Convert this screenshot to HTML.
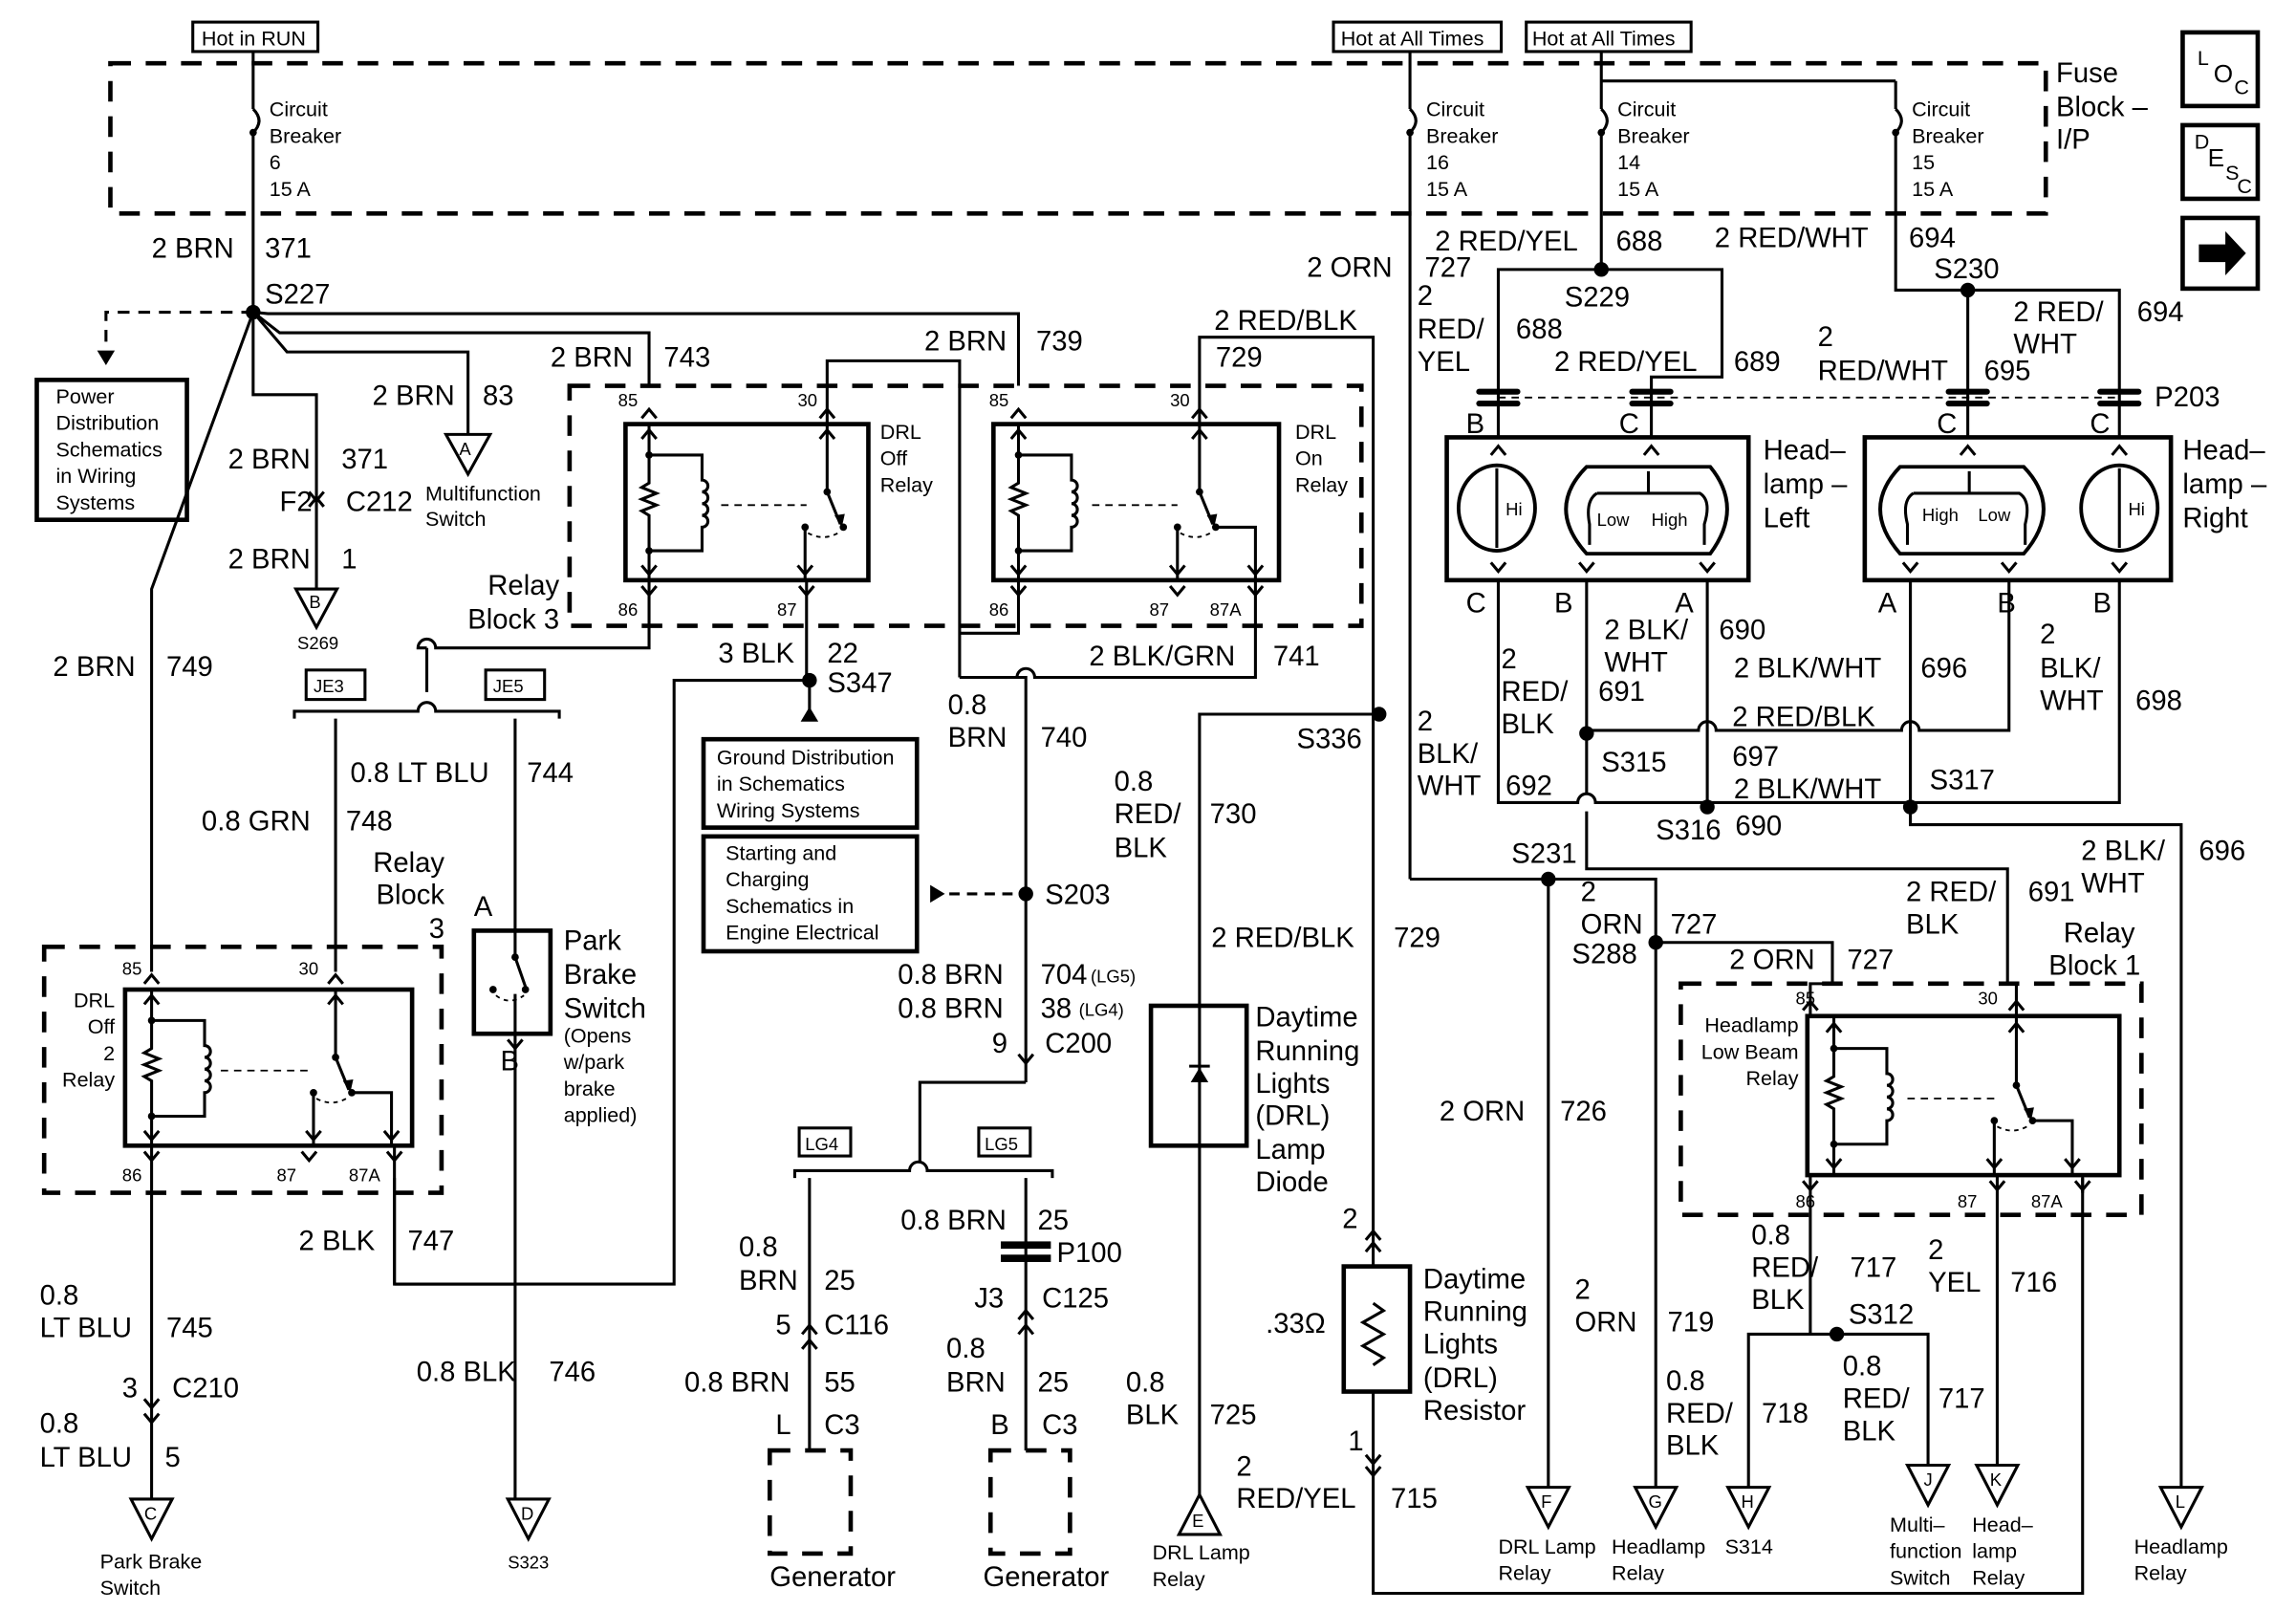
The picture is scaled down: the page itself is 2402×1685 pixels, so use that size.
<!DOCTYPE html>
<html><head><meta charset="utf-8"><style>
html,body{margin:0;padding:0;background:#fff;}
svg{display:block;}
text{font-family:"Liberation Sans",Arial,sans-serif;fill:#000;}
.m{font-size:19px;}
.s{font-size:14px;}
.t{font-size:12px;}
.ln{stroke:#000;stroke-width:2;fill:none;}
.bx{stroke:#000;stroke-width:3;fill:none;}
.dsh{stroke:#000;stroke-width:3;fill:none;stroke-dasharray:14 10;}
.thin{stroke:#000;stroke-width:1.2;fill:none;stroke-dasharray:5 4;}
</style></head><body>
<svg width="2402" height="1685" viewBox="0 0 1560 1094" preserveAspectRatio="none" xmlns="http://www.w3.org/2000/svg">
<rect width="1560" height="1094" fill="#fff"/>
<defs>
<g id="coil">
<path class="ln" d="M0,0 V40 L-5,43 L5,47 L-5,51 L5,55 L-5,59 L0,62 V106"/>
<path class="ln" d="M-5,10 L0,4 L5,10 M-5,96 L0,102 L5,96"/>
<circle cx="0" cy="21" r="2.5"/><circle cx="0" cy="86" r="2.5"/>
<path class="ln" d="M0,21 H36 V38 a4,4 0 0 1 0,8 a4,4 0 0 1 0,8 a4,4 0 0 1 0,8 a4,4 0 0 1 0,8 V86 H0"/>
</g>
<g id="sw">
<path class="ln" d="M0,0 V46 L9,68 M-5,10 L0,4 L5,10"/>
<path d="M5,62 L10,70 L12,61 Z"/>
<circle cx="0" cy="46" r="2.5"/><circle cx="11" cy="70" r="2.5"/><circle cx="-15" cy="70" r="2.5"/>
<path class="ln" d="M-15,70 V106 M-20,96 L-15,102 L-10,96"/>
<path class="thin" d="M-13,74 Q-2,80 9,73" style="stroke-dasharray:3 3"/>
</g>
<g id="sw87a">
<use href="#sw"/>
<path class="ln" d="M11,70 H38 V106 M33,96 L38,102 L43,96"/>
</g>
<g id="fchev"><path class="ln" d="M-5,6 L0,0 L5,6"/></g>
<g id="mchev"><path class="ln" d="M-5,-6 L0,0 L5,-6"/></g>
</defs>

<rect x="131" y="15" width="85" height="20" class="ln"/><text x="137" y="31" class="s">Hot in RUN</text>
<rect x="906" y="15" width="114" height="20" class="ln"/><text x="911" y="31" class="s">Hot at All Times</text>
<rect x="1037" y="15" width="112" height="20" class="ln"/><text x="1041" y="31" class="s">Hot at All Times</text>

<path class="dsh" d="M75,43 H1390 V145 H75 Z"/>
<text x="1397" y="56" class="m">Fuse</text><text x="1397" y="79" class="m">Block –</text><text x="1397" y="101" class="m">I/P</text>

<rect x="1483" y="22" width="51" height="50" class="bx"/><text x="1493" y="44" class="s">L</text><text x="1504" y="56" class="m" style="font-size:17px">O</text><text x="1518" y="64" class="s">C</text>
<rect x="1483" y="85" width="51" height="50" class="bx"/><text x="1491" y="101" class="s">D</text><text x="1500" y="113" class="m" style="font-size:17px">E</text><text x="1512" y="122" class="s">S</text><text x="1520" y="131" class="s">C</text>
<rect x="1483" y="148" width="51" height="48" class="bx"/><path d="M1494,166 H1512 V157 L1526,172 L1512,187 V178 H1494 Z"/>

<g>
<path class="ln" d="M172,35 V74 M172,90 V212"/><path class="ln" d="M172,90 Q180,82 172,74"/><circle cx="172" cy="90" r="2.5"/>
<text x="183" y="79" class="s">Circuit</text><text x="183" y="97" class="s">Breaker</text><text x="183" y="115" class="s">6</text><text x="183" y="133" class="s">15 A</text>
</g>
<g>
<path class="ln" d="M958,35 V74 M958,90 V597"/><path class="ln" d="M958,90 Q966,82 958,74"/><circle cx="958" cy="90" r="2.5"/>
<text x="969" y="79" class="s">Circuit</text><text x="969" y="97" class="s">Breaker</text><text x="969" y="115" class="s">16</text><text x="969" y="133" class="s">15 A</text>
</g>
<g>
<path class="ln" d="M1088,35 V74 M1088,90 V183"/><path class="ln" d="M1088,90 Q1096,82 1088,74"/><circle cx="1088" cy="90" r="2.5"/>
<text x="1099" y="79" class="s">Circuit</text><text x="1099" y="97" class="s">Breaker</text><text x="1099" y="115" class="s">14</text><text x="1099" y="133" class="s">15 A</text>
</g>
<g>
<path class="ln" d="M1288,55 V74 M1288,90 V197 H1337"/><path class="ln" d="M1088,55 H1288"/><path class="ln" d="M1288,90 Q1296,82 1288,74"/><circle cx="1288" cy="90" r="2.5"/>
<text x="1299" y="79" class="s">Circuit</text><text x="1299" y="97" class="s">Breaker</text><text x="1299" y="115" class="s">15</text><text x="1299" y="133" class="s">15 A</text>
</g>

<text x="103" y="175" class="m">2 BRN</text><text x="180" y="175" class="m">371</text>
<text x="180" y="206" class="m">S227</text>
<circle cx="172" cy="212" r="5"/>
<path class="dsh" style="stroke-width:2;stroke-dasharray:8 6" d="M172,212 H72 V238"/>
<path d="M66,238 L78,238 L72,248 Z"/>
<rect x="25" y="258" width="102" height="95" class="bx"/>
<text x="38" y="274" class="s">Power</text><text x="38" y="292" class="s">Distribution</text><text x="38" y="310" class="s">Schematics</text><text x="38" y="328" class="s">in Wiring</text><text x="38" y="346" class="s">Systems</text>
<path class="ln" d="M172,212 L182,213 H692 V262"/>
<path class="ln" d="M172,212 L190,226 H441 V262"/>
<path class="ln" d="M172,212 L195,239 H318 V295"/>
<path class="ln" d="M172,212 V268 H215 V400"/>
<path class="ln" d="M172,212 L103,400 V660"/>
<path d="M303,295 L333,295 L318,322 Z" fill="none" stroke="#000" stroke-width="2"/><text x="312" y="309" class="t">A</text>
<text x="289" y="340" class="s">Multifunction</text><text x="289" y="357" class="s">Switch</text>
<text x="253" y="275" class="m">2 BRN</text><text x="328" y="275" class="m">83</text>
<text x="374" y="249" class="m">2 BRN</text><text x="451" y="249" class="m">743</text>
<text x="628" y="238" class="m">2 BRN</text><text x="704" y="238" class="m">739</text>
<text x="155" y="318" class="m">2 BRN</text><text x="232" y="318" class="m">371</text>
<text x="190" y="347" class="m">F2</text><text x="235" y="347" class="m">C212</text>
<path class="ln" d="M210,334 L215,340 L220,334 M210,344 L215,338 L220,344"/>
<text x="155" y="386" class="m">2 BRN</text><text x="232" y="386" class="m">1</text>
<path d="M201,400 L229,400 L215,426 Z" fill="none" stroke="#000" stroke-width="2"/><text x="210" y="413" class="t">B</text>
<text x="202" y="441" class="t">S269</text>

<path class="dsh" d="M387,262 H925 V425 H387 Z"/>
<text x="380" y="404" class="m" text-anchor="end">Relay</text><text x="380" y="427" class="m" text-anchor="end">Block 3</text>
<text x="420" y="276" class="t">85</text><text x="542" y="276" class="t">30</text>
<text x="672" y="276" class="t">85</text><text x="795" y="276" class="t">30</text>
<text x="420" y="418" class="t">86</text><text x="528" y="418" class="t">87</text>
<text x="672" y="418" class="t">86</text><text x="781" y="418" class="t">87</text><text x="822" y="418" class="t">87A</text>
<rect x="425" y="288" width="165" height="106" class="bx"/>
<use href="#coil" x="441" y="288"/><use href="#sw" x="562" y="288"/>
<path class="thin" d="M490,343 H548"/>
<use href="#fchev" x="441" y="278"/><use href="#fchev" x="562" y="278"/>
<text x="598" y="298" class="s">DRL</text><text x="598" y="316" class="s">Off</text><text x="598" y="334" class="s">Relay</text>
<rect x="675" y="288" width="194" height="106" class="bx"/>
<use href="#coil" x="692" y="288"/><use href="#sw87a" x="815" y="288"/>
<path class="thin" d="M742,343 H800"/>
<use href="#fchev" x="692" y="278"/><use href="#fchev" x="815" y="278"/>
<text x="880" y="298" class="s">DRL</text><text x="880" y="316" class="s">On</text><text x="880" y="334" class="s">Relay</text>
<path class="ln" d="M562,288 V245 H652 V460"/>
<path class="ln" d="M815,288 V229 H933 V485"/>
<text x="825" y="224" class="m">2 RED/BLK</text><text x="826" y="249" class="m">729</text>
<use href="#mchev" x="441" y="404"/><use href="#mchev" x="548" y="404"/><use href="#mchev" x="692" y="404"/><use href="#mchev" x="800" y="404"/><use href="#mchev" x="853" y="404"/>
<path class="ln" d="M441,394 V440 H296 A6,6 0 0 0 284,440 H290 M290,440 V470"/>
<path class="ln" d="M548,394 V462 H458 V872 H268 V800"/>
<path class="ln" d="M692,394 V430 H652"/>
<path class="ln" d="M853,394 V460 H703 A6,6 0 0 0 691,460 H652"/>
<circle cx="550" cy="462" r="5"/>
<text x="488" y="450" class="m">3 BLK</text><text x="562" y="450" class="m">22</text><text x="562" y="470" class="m">S347</text>
<text x="740" y="452" class="m">2 BLK/GRN</text><text x="865" y="452" class="m">741</text>
<path class="ln" d="M550,462 V482"/><path d="M544,490 L556,490 L550,480 Z"/>
<rect x="478" y="502" width="145" height="60" class="bx"/>
<text x="487" y="519" class="s">Ground Distribution</text><text x="487" y="537" class="s">in Schematics</text><text x="487" y="555" class="s">Wiring Systems</text>
<rect x="478" y="568" width="145" height="78" class="bx"/>
<text x="493" y="584" class="s">Starting and</text><text x="493" y="602" class="s">Charging</text><text x="493" y="620" class="s">Schematics in</text><text x="493" y="638" class="s">Engine Electrical</text>
<path d="M632,601 L632,613 L642,607 Z"/>
<path class="ln" style="stroke-dasharray:7 5" d="M645,607 H697"/>
<path class="ln" d="M652,460 H697 V735"/>
<circle cx="697" cy="607" r="5"/>
<text x="710" y="614" class="m">S203</text>
<text x="644" y="485" class="m">0.8</text><text x="644" y="507" class="m">BRN</text><text x="707" y="507" class="m">740</text>
<text x="610" y="668" class="m">0.8 BRN</text><text x="707" y="668" class="m">704</text><text x="741" y="667" class="t">(LG5)</text>
<text x="610" y="691" class="m">0.8 BRN</text><text x="707" y="691" class="m">38</text><text x="733" y="690" class="t">(LG4)</text>
<text x="674" y="715" class="m">9</text><text x="710" y="715" class="m">C200</text>
<use href="#mchev" x="697" y="722"/>
<path class="ln" d="M697,735 H625 V790"/>
<path class="ln" d="M540,800 V795 H618 A6,6 0 0 1 630,795 H715 V800"/>
<rect x="543" y="766" width="35" height="19" class="ln"/><text x="547" y="781" class="t">LG4</text>
<rect x="665" y="766" width="35" height="19" class="ln"/><text x="669" y="781" class="t">LG5</text>
<path class="ln" d="M550,800 V985 M697,800 V985"/>
<text x="502" y="853" class="m">0.8</text><text x="502" y="876" class="m">BRN</text><text x="560" y="876" class="m">25</text>
<text x="612" y="835" class="m">0.8 BRN</text><text x="705" y="835" class="m">25</text>
<rect x="680" y="843" width="34" height="5" fill="#000"/><rect x="680" y="852" width="34" height="5" fill="#000"/>
<text x="718" y="857" class="m">P100</text>
<text x="662" y="888" class="m">J3</text><text x="708" y="888" class="m">C125</text>
<text x="527" y="906" class="m">5</text><text x="560" y="906" class="m">C116</text>
<path class="ln" d="M545,906 L550,900 L555,906 M545,916 L550,910 L555,916"/>
<path class="ln" d="M692,896 L697,890 L702,896 M692,906 L697,900 L702,906"/>
<text x="643" y="922" class="m">0.8</text><text x="643" y="945" class="m">BRN</text><text x="705" y="945" class="m">25</text>
<text x="465" y="945" class="m">0.8 BRN</text><text x="560" y="945" class="m">55</text>
<text x="527" y="974" class="m">L</text><text x="560" y="974" class="m">C3</text>
<text x="673" y="974" class="m">B</text><text x="708" y="974" class="m">C3</text>
<path class="dsh" d="M523,985 H578 V1055 H523 Z"/>
<path class="dsh" d="M673,985 H727 V1055 H673 Z"/>
<text x="523" y="1077" class="m">Generator</text><text x="668" y="1077" class="m">Generator</text>

<path class="ln" d="M200,488 V483 H284 A6,6 0 0 1 296,483 H380 V488"/>
<rect x="208" y="455" width="40" height="20" class="ln"/><text x="213" y="470" class="t">JE3</text>
<rect x="330" y="455" width="40" height="20" class="ln"/><text x="335" y="470" class="t">JE5</text>
<text x="36" y="459" class="m">2 BRN</text><text x="113" y="459" class="m">749</text>
<path class="ln" d="M228,488 V660 M350,488 V632"/>
<text x="238" y="531" class="m">0.8 LT BLU</text><text x="358" y="531" class="m">744</text>
<text x="137" y="564" class="m">0.8 GRN</text><text x="235" y="564" class="m">748</text>
<text x="302" y="592" class="m" text-anchor="end">Relay</text><text x="302" y="614" class="m" text-anchor="end">Block</text><text x="302" y="637" class="m" text-anchor="end">3</text>
<text x="322" y="622" class="m">A</text>
<rect x="322" y="632" width="52" height="70" class="bx"/>
<path class="ln" d="M350,632 V650 L357,670 M350,702 V675"/><circle cx="350" cy="650" r="2.5"/><circle cx="357" cy="672" r="2.5"/><circle cx="335" cy="672" r="2.5"/>
<path class="thin" d="M337,676 Q346,683 356,676" style="stroke-dasharray:3 3"/>
<text x="383" y="645" class="m">Park</text><text x="383" y="668" class="m">Brake</text><text x="383" y="691" class="m">Switch</text>
<text x="383" y="708" class="s">(Opens</text><text x="383" y="726" class="s">w/park</text><text x="383" y="744" class="s">brake</text><text x="383" y="762" class="s">applied)</text>
<text x="340" y="727" class="m">B</text>
<use href="#mchev" x="350" y="712"/>
<path class="ln" d="M350,702 V1018"/>
<path class="ln" d="M268,872 H350"/>
<text x="283" y="938" class="m">0.8 BLK</text><text x="373" y="938" class="m">746</text>
<path d="M345,1018 L373,1018 L359,1045 Z" fill="none" stroke="#000" stroke-width="2"/><text x="354" y="1032" class="t">D</text>
<text x="345" y="1065" class="t">S323</text>

<path class="dsh" d="M30,643 H300 V810 H30 Z"/>
<text x="83" y="662" class="t">85</text><text x="203" y="662" class="t">30</text>
<text x="83" y="802" class="t">86</text><text x="188" y="802" class="t">87</text><text x="237" y="802" class="t">87A</text>
<rect x="85" y="672" width="195" height="106" class="bx"/>
<use href="#coil" x="103" y="672"/><use href="#sw87a" x="228" y="672" />
<path class="thin" d="M150,727 H210"/>
<use href="#fchev" x="103" y="662"/><use href="#fchev" x="228" y="662"/>
<use href="#mchev" x="103" y="788"/><use href="#mchev" x="210" y="788"/><use href="#mchev" x="268" y="788"/>
<text x="78" y="684" class="s" text-anchor="end">DRL</text><text x="78" y="702" class="s" text-anchor="end">Off</text><text x="78" y="720" class="s" text-anchor="end">2</text><text x="78" y="738" class="s" text-anchor="end">Relay</text>
<path class="ln" d="M103,778 V1018 M268,778 V872"/>
<text x="203" y="849" class="m">2 BLK</text><text x="277" y="849" class="m">747</text>
<text x="27" y="886" class="m">0.8</text><text x="27" y="908" class="m">LT BLU</text><text x="113" y="908" class="m">745</text>
<text x="83" y="949" class="m">3</text><text x="117" y="949" class="m">C210</text>
<path class="ln" d="M98,950 L103,956 L108,950 M98,960 L103,966 L108,960"/>
<text x="27" y="973" class="m">0.8</text><text x="27" y="996" class="m">LT BLU</text><text x="112" y="996" class="m">5</text>
<path d="M89,1018 L117,1018 L103,1045 Z" fill="none" stroke="#000" stroke-width="2"/><text x="98" y="1032" class="t">C</text>
<text x="68" y="1065" class="s">Park Brake</text><text x="68" y="1083" class="s">Switch</text>

<circle cx="937" cy="485" r="5"/><text x="881" y="508" class="m">S336</text>
<path class="ln" d="M933,485 H815 V1015"/>
<path class="ln" d="M933,485 V860 M933,945 V1082 H1415 V800"/>
<text x="757" y="537" class="m">0.8</text><text x="757" y="559" class="m">RED/</text><text x="757" y="582" class="m">BLK</text><text x="822" y="559" class="m">730</text>
<text x="823" y="643" class="m">2 RED/BLK</text><text x="947" y="643" class="m">729</text>
<rect x="782" y="683" width="65" height="95" class="bx"/>
<path d="M809,735 L821,735 L815,725 Z"/><path class="ln" d="M808,724 H822"/>
<text x="853" y="697" class="m">Daytime</text><text x="853" y="720" class="m">Running</text><text x="853" y="742" class="m">Lights</text><text x="853" y="764" class="m">(DRL)</text><text x="853" y="787" class="m">Lamp</text><text x="853" y="809" class="m">Diode</text>
<text x="912" y="834" class="m">2</text>
<path class="ln" d="M928,842 L933,836 L938,842 M928,850 L933,844 L938,850"/>
<rect x="913" y="860" width="45" height="85" class="bx"/>
<path class="ln" d="M933,885 L940,890 L926,898 L940,906 L926,914 L940,922 L933,927"/>
<text x="860" y="905" class="m">.33Ω</text>
<text x="967" y="875" class="m">Daytime</text><text x="967" y="897" class="m">Running</text><text x="967" y="919" class="m">Lights</text><text x="967" y="942" class="m">(DRL)</text><text x="967" y="964" class="m">Resistor</text>
<text x="916" y="985" class="m">1</text>
<path class="ln" d="M928,988 L933,994 L938,988 M928,996 L933,1002 L938,996"/>
<text x="765" y="945" class="m">0.8</text><text x="765" y="967" class="m">BLK</text><text x="822" y="967" class="m">725</text>
<text x="840" y="1002" class="m">2</text><text x="840" y="1024" class="m">RED/YEL</text><text x="945" y="1024" class="m">715</text>
<path d="M801,1042 L829,1042 L815,1015 Z" fill="none" stroke="#000" stroke-width="2"/><text x="810" y="1037" class="t">E</text>
<text x="783" y="1059" class="s">DRL Lamp</text><text x="783" y="1077" class="s">Relay</text>

<text x="888" y="188" class="m">2 ORN</text><text x="968" y="188" class="m">727</text>
<text x="963" y="207" class="m">2</text><text x="963" y="230" class="m">RED/</text><text x="963" y="252" class="m">YEL</text><text x="1030" y="230" class="m">688</text>
<text x="975" y="170" class="m">2 RED/YEL</text><text x="1098" y="170" class="m">688</text>
<text x="1165" y="168" class="m">2 RED/WHT</text><text x="1297" y="168" class="m">694</text>
<circle cx="1088" cy="183" r="5"/><text x="1063" y="208" class="m">S229</text>
<path class="ln" d="M1088,183 H1018 V297 M1088,183 H1170 V256 H1122 V297"/>
<text x="1056" y="252" class="m">2 RED/YEL</text><text x="1178" y="252" class="m">689</text>
<circle cx="1337" cy="197" r="5"/><text x="1314" y="189" class="m">S230</text>
<path class="ln" d="M1337,197 V297 M1337,197 H1440 V297"/>
<text x="1368" y="218" class="m">2 RED/</text><text x="1368" y="240" class="m">WHT</text><text x="1452" y="218" class="m">694</text>
<text x="1235" y="235" class="m">2</text><text x="1235" y="258" class="m">RED/WHT</text><text x="1348" y="258" class="m">695</text>
<path class="thin" d="M1018,270 H1440"/>
<g fill="#000">
<rect x="1003" y="264" width="30" height="4" rx="2"/><rect x="1003" y="272" width="30" height="4" rx="2"/>
<rect x="1107" y="264" width="30" height="4" rx="2"/><rect x="1107" y="272" width="30" height="4" rx="2"/>
<rect x="1322" y="264" width="30" height="4" rx="2"/><rect x="1322" y="272" width="30" height="4" rx="2"/>
<rect x="1425" y="264" width="30" height="4" rx="2"/><rect x="1425" y="272" width="30" height="4" rx="2"/>
</g>
<text x="1464" y="276" class="m">P203</text>
<text x="996" y="294" class="m">B</text><text x="1100" y="294" class="m">C</text><text x="1316" y="294" class="m">C</text><text x="1420" y="294" class="m">C</text>

<rect x="983" y="297" width="205" height="97" class="bx"/>
<ellipse cx="1017" cy="345" rx="26" ry="29" class="bx" style="stroke-width:2.5"/>
<path class="ln" d="M1017,318 V372"/><text x="1023" y="350" class="t">Hi</text>
<path class="bx" style="stroke-width:2.5" d="M1078,317 H1162 Q1185,345 1162,376 H1078 Q1050,345 1078,317 Z"/>
<path class="ln" d="M1120,320 V335 M1085,335 H1155 Q1163,340 1158,356 V370 M1085,335 Q1077,340 1080,356 V370"/>
<text x="1085" y="357" class="t">Low</text><text x="1122" y="357" class="t">High</text>
<text x="1198" y="312" class="m">Head–</text><text x="1198" y="335" class="m">lamp –</text><text x="1198" y="358" class="m">Left</text>
<rect x="1267" y="297" width="208" height="97" class="bx"/>
<path class="bx" style="stroke-width:2.5" d="M1291,317 H1375 Q1402,345 1375,376 H1291 Q1264,345 1291,317 Z"/>
<path class="ln" d="M1338,320 V335 M1300,335 H1372 Q1380,340 1376,356 V370 M1300,335 Q1292,340 1296,356 V370"/>
<text x="1306" y="354" class="t">High</text><text x="1344" y="354" class="t">Low</text>
<ellipse cx="1440" cy="345" rx="26" ry="29" class="bx" style="stroke-width:2.5"/>
<path class="ln" d="M1440,318 V372"/><text x="1446" y="350" class="t">Hi</text>
<text x="1483" y="312" class="m">Head–</text><text x="1483" y="335" class="m">lamp –</text><text x="1483" y="358" class="m">Right</text>
<use href="#fchev" x="1018" y="303"/><use href="#fchev" x="1122" y="303"/><use href="#fchev" x="1337" y="303"/><use href="#fchev" x="1440" y="303"/>
<use href="#mchev" x="1018" y="388"/><use href="#mchev" x="1078" y="388"/><use href="#mchev" x="1160" y="388"/><use href="#mchev" x="1298" y="388"/><use href="#mchev" x="1365" y="388"/><use href="#mchev" x="1440" y="388"/>
<text x="996" y="416" class="m">C</text><text x="1056" y="416" class="m">B</text><text x="1138" y="416" class="m">A</text><text x="1276" y="416" class="m">A</text><text x="1357" y="416" class="m">B</text><text x="1422" y="416" class="m">B</text>
<path class="ln" d="M1018,394 V545 H1072 A6,6 0 0 1 1084,545 H1440 V394"/>
<path class="ln" d="M1078,394 V539 M1078,551 V590 H1364 V668"/>
<path class="ln" d="M1078,496 H1154 A6,6 0 0 1 1166,496 H1292 A6,6 0 0 1 1304,496 H1365 V394"/>
<path class="ln" d="M1160,394 V545 M1298,394 V560 H1482 V1010"/>
<circle cx="1078" cy="498" r="5"/><circle cx="1160" cy="548" r="5"/><circle cx="1298" cy="548" r="5"/>
<text x="1088" y="524" class="m">S315</text><text x="1125" y="570" class="m">S316</text><text x="1179" y="567" class="m">690</text><text x="1311" y="536" class="m">S317</text>
<text x="1090" y="434" class="m">2 BLK/</text><text x="1090" y="456" class="m">WHT</text><text x="1086" y="476" class="m">691</text><text x="1168" y="434" class="m">690</text>
<text x="1020" y="454" class="m">2</text><text x="1020" y="476" class="m">RED/</text><text x="1020" y="498" class="m">BLK</text>
<text x="1178" y="460" class="m">2 BLK/WHT</text><text x="1305" y="460" class="m">696</text>
<text x="1177" y="493" class="m">2 RED/BLK</text>
<text x="1177" y="520" class="m">697</text><text x="1178" y="542" class="m">2 BLK/WHT</text>
<text x="1386" y="437" class="m">2</text><text x="1386" y="460" class="m">BLK/</text><text x="1386" y="482" class="m">WHT</text><text x="1451" y="482" class="m">698</text>
<text x="963" y="496" class="m">2</text><text x="963" y="518" class="m">BLK/</text><text x="963" y="540" class="m">WHT</text><text x="1023" y="540" class="m">692</text>

<path class="ln" d="M958,597 H1125 V1010"/>
<circle cx="1052" cy="597" r="5"/><text x="1027" y="586" class="m">S231</text>
<path class="ln" d="M1052,597 V1010"/>
<circle cx="1125" cy="640" r="5"/>
<path class="ln" d="M1125,640 H1245 V668 H1230 V680"/>
<text x="1074" y="612" class="m">2</text><text x="1074" y="634" class="m">ORN</text><text x="1068" y="654" class="m">S288</text><text x="1135" y="634" class="m">727</text>
<text x="1175" y="658" class="m">2 ORN</text><text x="1255" y="658" class="m">727</text>
<text x="1295" y="612" class="m">2 RED/</text><text x="1295" y="634" class="m">BLK</text><text x="1378" y="612" class="m">691</text>
<text x="1414" y="584" class="m">2 BLK/</text><text x="1414" y="606" class="m">WHT</text><text x="1494" y="584" class="m">696</text>
<text x="1402" y="640" class="m">Relay</text><text x="1392" y="662" class="m">Block 1</text>
<text x="978" y="761" class="m">2 ORN</text><text x="1060" y="761" class="m">726</text>

<path class="dsh" d="M1142,668 H1455 V825 H1142 Z"/>
<text x="1220" y="682" class="t">85</text><text x="1344" y="682" class="t">30</text>
<text x="1220" y="820" class="t">86</text><text x="1330" y="820" class="t">87</text><text x="1380" y="820" class="t">87A</text>
<rect x="1228" y="690" width="212" height="108" class="bx"/>
<use href="#coil" x="1246" y="691"/><use href="#sw87a" x="1370" y="691"/>
<path class="thin" d="M1296,746 H1355"/>
<use href="#fchev" x="1230" y="680"/><use href="#fchev" x="1370" y="680"/>
<use href="#mchev" x="1230" y="808"/><use href="#mchev" x="1357" y="808"/><use href="#mchev" x="1415" y="808"/>
<path class="ln" d="M1230,680 V690 M1370,668 V690 M1230,798 V906 M1357,798 V995 M1415,798 V810"/>
<text x="1222" y="701" class="s" text-anchor="end">Headlamp</text><text x="1222" y="719" class="s" text-anchor="end">Low Beam</text><text x="1222" y="737" class="s" text-anchor="end">Relay</text>
<text x="1190" y="845" class="m">0.8</text><text x="1190" y="867" class="m">RED/</text><text x="1190" y="889" class="m">BLK</text><text x="1257" y="867" class="m">717</text>
<text x="1310" y="855" class="m">2</text><text x="1310" y="877" class="m">YEL</text><text x="1366" y="877" class="m">716</text>
<circle cx="1248" cy="906" r="5"/><text x="1256" y="899" class="m">S312</text>
<path class="ln" d="M1188,1010 V906 H1310 V995"/>
<text x="1070" y="882" class="m">2</text><text x="1070" y="904" class="m">ORN</text><text x="1133" y="904" class="m">719</text>
<text x="1132" y="944" class="m">0.8</text><text x="1132" y="966" class="m">RED/</text><text x="1132" y="988" class="m">BLK</text><text x="1197" y="966" class="m">718</text>
<text x="1252" y="934" class="m">0.8</text><text x="1252" y="956" class="m">RED/</text><text x="1252" y="978" class="m">BLK</text><text x="1317" y="956" class="m">717</text>

<g fill="none" stroke="#000" stroke-width="2">
<path d="M1038,1010 L1066,1010 L1052,1037 Z"/><path d="M1111,1010 L1139,1010 L1125,1037 Z"/>
<path d="M1174,1010 L1202,1010 L1188,1037 Z"/><path d="M1296,995 L1324,995 L1310,1022 Z"/>
<path d="M1343,995 L1371,995 L1357,1022 Z"/><path d="M1468,1010 L1496,1010 L1482,1037 Z"/>
</g>
<text x="1047" y="1024" class="t">F</text><text x="1120" y="1024" class="t">G</text><text x="1183" y="1024" class="t">H</text><text x="1307" y="1009" class="t">J</text><text x="1352" y="1009" class="t">K</text><text x="1478" y="1024" class="t">L</text>
<text x="1018" y="1055" class="s">DRL Lamp</text><text x="1018" y="1073" class="s">Relay</text>
<text x="1095" y="1055" class="s">Headlamp</text><text x="1095" y="1073" class="s">Relay</text>
<text x="1172" y="1055" class="s">S314</text>
<text x="1284" y="1040" class="s">Multi–</text><text x="1284" y="1058" class="s">function</text><text x="1284" y="1076" class="s">Switch</text>
<text x="1340" y="1040" class="s">Head–</text><text x="1340" y="1058" class="s">lamp</text><text x="1340" y="1076" class="s">Relay</text>
<text x="1450" y="1055" class="s">Headlamp</text><text x="1450" y="1073" class="s">Relay</text>
</svg>
</body></html>
